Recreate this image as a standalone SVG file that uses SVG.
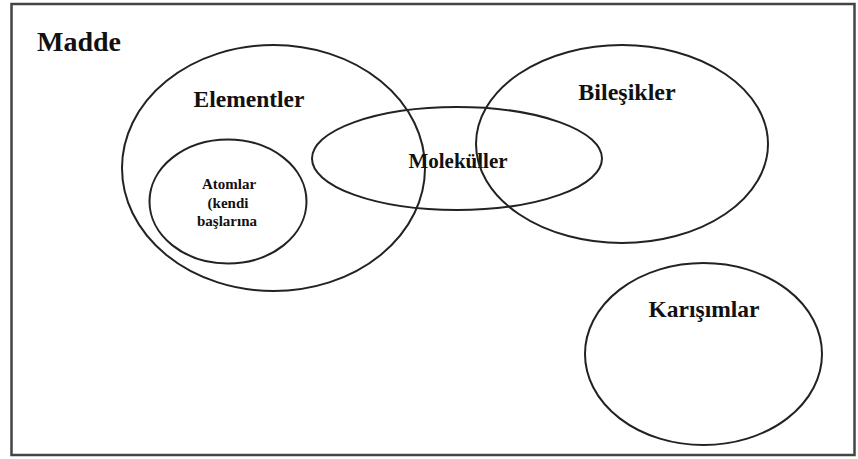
<svg xmlns="http://www.w3.org/2000/svg" width="858" height="459" viewBox="0 0 858 459">
<style>
.set{fill:none;stroke:#222;stroke-width:2}
text{font-family:'Liberation Serif','DejaVu Serif',serif;font-weight:bold;fill:#111;text-anchor:middle}
</style>
<rect width="858" height="459" fill="#fff"/>
<g id="madde">
<rect x="11.5" y="4" width="843" height="451" fill="none" stroke="#444" stroke-width="2.5"/>
<text x="37" y="51" font-size="28" text-anchor="start" style="text-anchor:start">Madde</text>
</g>
<g id="elementler">
<ellipse class="set" cx="273.5" cy="168" rx="151.5" ry="123"/>
<text x="249" y="107" font-size="23.5">Elementler</text>
</g>
<g id="atomlar">
<ellipse class="set" cx="228" cy="201.5" rx="78.5" ry="62"/>
<text x="229" y="189" font-size="15">Atomlar</text>
<text x="228" y="208" font-size="15">(kendi</text>
<text x="227" y="226" font-size="15">başlarına</text>
</g>
<g id="molekuller">
<ellipse class="set" cx="457" cy="158.5" rx="145" ry="51.5"/>
<text x="458" y="168" font-size="21">Moleküller</text>
</g>
<g id="bilesikler">
<ellipse class="set" cx="622" cy="144" rx="146" ry="99"/>
<text x="627" y="100" font-size="24">Bileşikler</text>
</g>
<g id="karisimlar">
<ellipse class="set" cx="703.5" cy="354" rx="118.5" ry="91"/>
<text x="704" y="317" font-size="23.5">Karışımlar</text>
</g>
<g id="connectors"/>
</svg>
